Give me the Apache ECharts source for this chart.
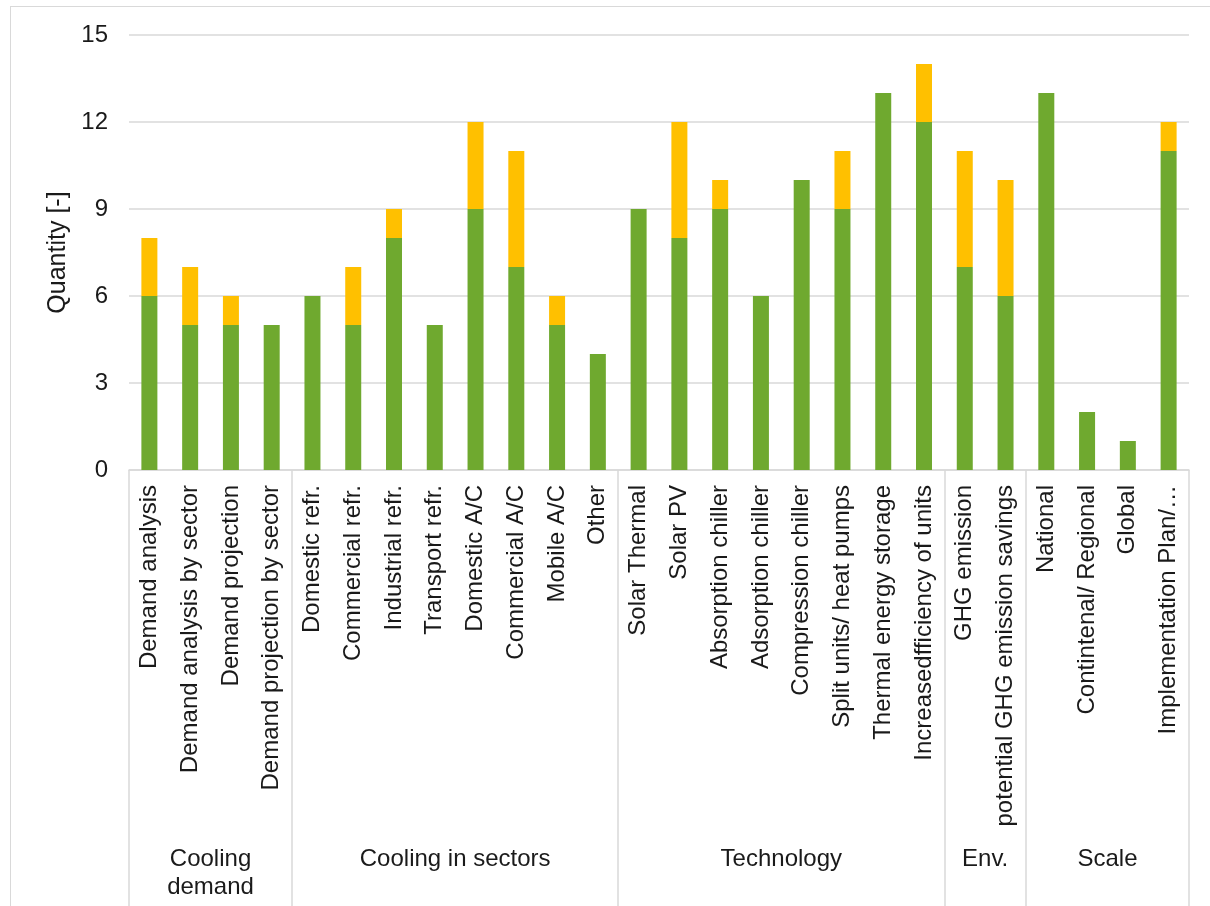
<!DOCTYPE html>
<html>
<head>
<meta charset="utf-8">
<script src="https://cdn.jsdelivr.net/npm/echarts@6/dist/echarts.min.js"></script>
<style>
  html, body { margin: 0; padding: 0; background: #fff; overflow: hidden; }
  #frame {
    position: absolute; left: 10px; top: 6px; width: 1210px; height: 920px;
    border: 1px solid #d9d9d9; box-sizing: border-box;
  }
  #chart { width: 1208px; height: 918px; }
</style>
</head>
<body>
<div id="frame"><div id="chart"></div></div>
<script>
// categories (bars)
var categories = [
  'Demand analysis', 'Demand analysis by sector', 'Demand projection', 'Demand projection by sector',
  'Domestic refr.', 'Commercial refr.', 'Industrial refr.', 'Transport refr.',
  'Domestic A/C', 'Commercial A/C', 'Mobile A/C', 'Other',
  'Solar Thermal', 'Solar PV', 'Absorption chiller', 'Adsorption chiller',
  'Compression chiller', 'Split units/ heat pumps', 'Thermal energy storage', 'Increasedfficiency of units',
  'GHG emission', 'potential GHG emission savings',
  'National', 'Contintenal/ Regional', 'Global', 'Implementation Plan/\u2026'
];
// green part
var greenValues = [6, 5, 5, 5, 6, 5, 8, 5, 9, 7, 5, 4, 9, 8, 9, 6, 10, 9, 13, 12, 7, 6, 13, 2, 1, 11];
// orange part (stacked on top)
var orangeValues = [2, 2, 1, 0, 0, 2, 1, 0, 3, 4, 1, 0, 0, 4, 1, 0, 0, 2, 0, 2, 4, 4, 0, 0, 0, 1];

// groups under the axis
var groupNames = ['Cooling\ndemand', 'Cooling in sectors', 'Technology', 'Env.', 'Scale'];
var groupStarts = [0, 4, 12, 20, 22];
var groupEnds = [4, 12, 20, 22, 26];

var yTicks = [0, 3, 6, 9, 12, 15];

var textColor = '#1a1a1a';
var font = 'Liberation Sans, Arial, sans-serif';

var chart = echarts.init(document.getElementById('chart'));
var option = {
  animation: false,
  grid: {
    left: 118,
    top: 28,
    width: 1060,
    height: 435
  },
  xAxis: [{
    type: 'category',
    data: categories,
    boundaryGap: true,
    axisLine: { lineStyle: { color: '#d9d9d9', width: 1.5 } },
    axisTick: {
      show: true,
      length: 440,
      // separators only at group edges
      interval: function (index) {
        return groupStarts.indexOf(index) >= 0;
      },
      lineStyle: { color: '#d9d9d9', width: 1.5 }
    },
    axisLabel: {
      interval: 0,
      rotate: 90,
      margin: 15,
      fontSize: 24,
      fontFamily: font,
      color: textColor
    },
    splitLine: { show: false }
  }, {
    // group names, placed at the centre of each group
    type: 'value',
    position: 'bottom',
    min: 0,
    max: categories.length,
    interval: 1,
    axisLine: { show: false },
    axisTick: { show: false },
    splitLine: { show: false },
    axisLabel: {
      margin: 375,
      fontSize: 24,
      lineHeight: 28,
      fontFamily: font,
      color: textColor,
      formatter: function (v) {
        for (var i = 0; i < groupNames.length; i++) {
          if ((groupStarts[i] + groupEnds[i]) / 2 === v) return groupNames[i];
        }
        return '';
      }
    }
  }],
  yAxis: {
    type: 'value',
    min: yTicks[0],
    max: yTicks[yTicks.length - 1],
    interval: 3,
    name: 'Quantity [-]',
    nameLocation: 'middle',
    nameGap: 54,
    nameTextStyle: { fontSize: 25, fontFamily: font, color: textColor },
    axisLine: { show: false },
    axisTick: { show: false },
    axisLabel: { margin: 21, fontSize: 24, fontFamily: font, color: textColor },
    splitLine: { lineStyle: { color: '#d9d9d9', width: 1.5 } }
  },
  series: [{
    type: 'bar',
    stack: 'total',
    data: greenValues,
    barWidth: 16,
    itemStyle: { color: '#6fa92f' }
  }, {
    type: 'bar',
    stack: 'total',
    data: orangeValues,
    barWidth: 16,
    itemStyle: { color: '#ffc000' }
  }]
};
chart.setOption(option);
</script>
</body>
</html>
